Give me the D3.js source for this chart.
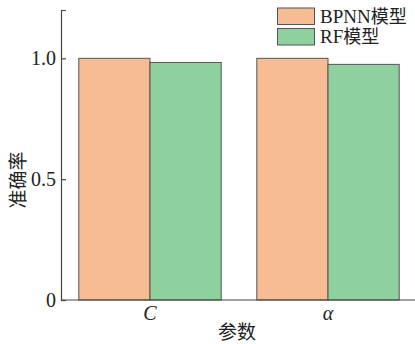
<!DOCTYPE html>
<html><head><meta charset="utf-8">
<script src="https://cdn.jsdelivr.net/npm/d3@7"></script>
<style>body{margin:0;background:#fff}svg{display:block}</style>
</head><body>
<script>
const categories = ["C", "α"];
const seriesNames = ["BPNN模型", "RF模型"];
const bpnn = [1.0, 1.0];
const rf = [0.983, 0.975];
const yTicks = [0, 0.5, 1.0];
const yTickLabels = ["0", "0.5", "1.0"];
const colors = ["#F6BC93", "#8FD09F"];

(function () {
const W = 415, H = 344;
const mLeft = 61, mRight = 417, mTop = 10, mBottom = 300;
const svg = d3.select("body").append("svg").attr("width", W).attr("height", H);
const serif = "Liberation Serif";
const cjk = "Noto Sans CJK SC";

const x0 = d3.scaleBand().domain(categories).range([mLeft, mRight]).paddingInner(0.2).paddingOuter(0.1);
const x1 = d3.scaleBand().domain(seriesNames).range([0, x0.bandwidth()]);
const y = d3.scaleLinear().domain([0, 1.2]).range([mBottom, mTop]);

const data = categories.map((c, i) => ({c, vals: [bpnn[i], rf[i]]}));
const g = svg.append("g");
data.forEach(d => {
  d.vals.forEach((v, j) => {
    g.append("rect")
      .attr("x", x0(d.c) + x1(seriesNames[j]))
      .attr("y", y(v))
      .attr("width", x1.bandwidth())
      .attr("height", y(0) - y(v))
      .attr("fill", colors[j])
      .attr("stroke", "#555")
      .attr("stroke-width", 1);
  });
});

const yAxis = d3.axisLeft(y).tickValues(yTicks).tickSizeInner(-5).tickSizeOuter(-5)
  .tickFormat((d, i) => yTickLabels[i]).tickPadding(5);
const ya = svg.append("g").attr("transform", `translate(${mLeft},0)`).call(yAxis);
ya.selectAll("path,line").attr("stroke", "#444").attr("stroke-width", 1.2);
ya.selectAll("text").style("font-family", serif).style("font-size", "20px").attr("fill", "#222");

svg.append("line").attr("x1", mLeft).attr("x2", W).attr("y1", mBottom).attr("y2", mBottom)
  .attr("stroke", "#444").attr("stroke-width", 1.2);
categories.forEach(c => {
  svg.append("text").attr("x", x0(c) + x0.bandwidth() / 2).attr("y", 320)
    .attr("text-anchor", "middle").style("font-family", serif).attr("font-style", "italic")
    .style("font-size", "20px").attr("fill", "#222").text(c);
});

svg.append("text").attr("transform", "translate(25,180) rotate(-90)")
  .attr("text-anchor", "middle").style("font-family", cjk).style("font-size", "19px").attr("fill", "#222").text("准确率");
svg.append("text").attr("x", 237).attr("y", 339).attr("text-anchor", "middle")
  .style("font-family", cjk).style("font-size", "19px").attr("fill", "#222").text("参数");

seriesNames.forEach((s, i) => {
  const ly = 8 + i * 20.5;
  svg.append("rect").attr("x", 277.5).attr("y", ly).attr("width", 37).attr("height", 16.5)
    .attr("fill", colors[i]).attr("stroke", "#555").attr("stroke-width", 1);
  const t = svg.append("text").attr("x", 320).attr("y", ly + 14.5).style("font-size", "18px").attr("fill", "#222");
  const m = s.match(/^([A-Za-z]+)(.*)$/);
  t.append("tspan").style("font-family", serif).style("font-size", "19px").text(m[1]);
  t.append("tspan").style("font-family", cjk).style("font-size", "18px").text(m[2]);
});
})();
</script>
</body></html>
